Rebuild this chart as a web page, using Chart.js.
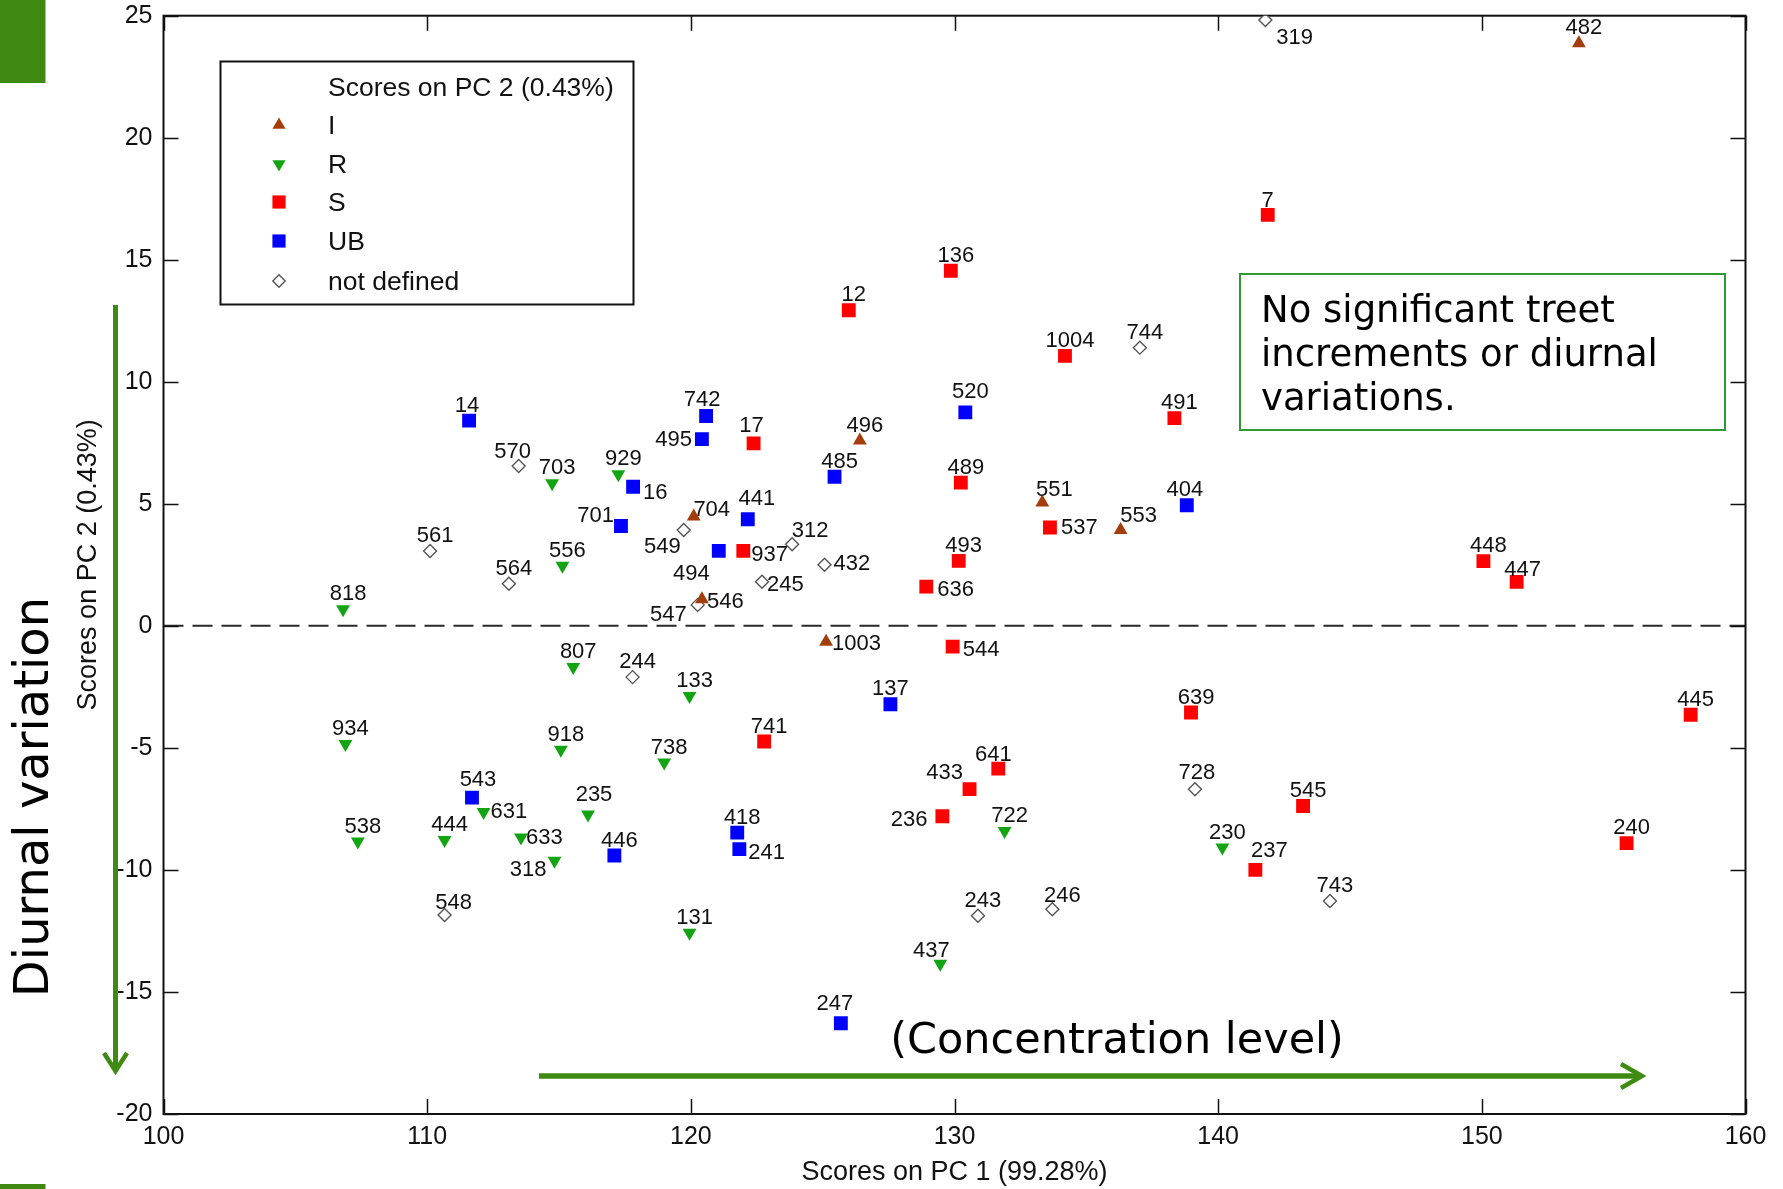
<!DOCTYPE html>
<html>
<head>
<meta charset="utf-8">
<script src="https://cdn.jsdelivr.net/npm/chart.js@4.4.1/dist/chart.umd.min.js"></script>
<style>
  html, body { margin: 0; padding: 0; background: #ffffff; }
  #wrap { position: relative; width: 1783px; height: 1189px; }
  canvas { display: block; }
</style>
</head>
<body>
<div id="wrap"><canvas id="c" width="1783" height="1189"></canvas></div>
<script>
// ---------------- DATA ----------------
const X_TICKS = [100, 110, 120, 130, 140, 150, 160];
const Y_TICKS = [-20, -15, -10, -5, 0, 5, 10, 15, 20, 25];

const X_TITLE = 'Scores on PC 1 (99.28%)';
const Y_TITLE = 'Scores on PC 2 (0.43%)';
const LEGEND_TITLE = 'Scores on PC 2 (0.43%)';
const CLASS_NAMES = ['I', 'R', 'S', 'UB', 'not defined'];

// Class I
const I_ids = ['482', '496', '704', '551', '553', '546', '1003'];
const I_x   = [153.68, 126.41, 120.11, 133.33, 136.30, 120.42, 125.13];
const I_y   = [23.87, 7.59, 4.48, 5.05, 3.93, 1.09, -0.65];

// Class R
const R_ids = ['818', '703', '929', '556', '807', '133', '934', '918', '738', '631', '235', '538', '444', '633', '318', '131', '722', '230', '437'];
const R_x   = [106.81, 114.74, 117.25, 115.13, 115.54, 119.95, 106.90, 115.07, 118.99, 112.14, 116.10, 107.37, 110.66, 113.56, 114.83, 119.95, 131.90, 140.16, 129.46];
const R_y   = [0.68, 5.84, 6.21, 2.46, -1.69, -2.87, -4.84, -5.08, -5.60, -7.63, -7.73, -8.84, -8.77, -8.67, -9.62, -12.57, -8.40, -9.08, -13.84];

// Class S
const S_ids = ['7', '136', '12', '1004', '491', '17', '489', '537', '937', '493', '636', '448', '447', '544', '741', '639', '445', '641', '433', '236', '545', '240', '237'];
const S_x   = [141.88, 129.86, 125.99, 134.19, 138.34, 122.38, 130.24, 133.62, 121.99, 130.16, 128.93, 150.06, 151.32, 129.93, 122.78, 138.97, 157.92, 131.66, 130.57, 129.54, 143.22, 155.49, 141.41];
const S_y   = [16.84, 14.55, 12.93, 11.06, 8.51, 7.48, 5.87, 4.03, 3.07, 2.66, 1.61, 2.65, 1.80, -0.85, -4.74, -3.55, -3.64, -5.85, -6.69, -7.80, -7.38, -8.90, -10.00];

// Class UB
const UB_ids = ['14', '742', '495', '520', '485', '16', '701', '441', '494', '404', '137', '543', '446', '418', '241', '247'];
const UB_x   = [111.59, 120.58, 120.42, 130.41, 125.45, 117.81, 117.35, 122.16, 121.06, 138.81, 127.57, 111.70, 117.10, 121.76, 121.84, 125.69];
const UB_y   = [8.41, 8.60, 7.65, 8.75, 6.11, 5.70, 4.09, 4.37, 3.07, 4.94, -3.21, -7.04, -9.41, -8.47, -9.15, -16.28];

// not defined
const ND_ids = ['319', '744', '570', '561', '564', '549', '312', '432', '245', '547', '244', '728', '548', '243', '246', '743'];
const ND_x   = [141.79, 137.03, 113.47, 110.11, 113.10, 119.73, 123.84, 125.07, 122.70, 120.26, 117.79, 139.12, 110.66, 130.89, 133.71, 144.24];
const ND_y   = [24.82, 11.40, 6.55, 3.07, 1.73, 3.93, 3.34, 2.50, 1.81, 0.86, -2.10, -6.69, -11.85, -11.88, -11.61, -11.27];

// ---------------- STYLE ----------------
const FONT_MAT = '"Liberation Sans", Arial, Helvetica, sans-serif';
const FONT_ANN = '"DejaVu Sans", Verdana, sans-serif';
const C_BROWN = '#a33e0c';
const C_GREEN = '#12a412';
const C_RED = '#ff0000';
const C_BLUE = '#0000ff';
const C_ND = '#555555';
const C_DECOR = '#3f8a12';
const C_BOXGREEN = '#2e9b2e';

// label placement overrides: [dx, dy(middle), align]
const LABEL_SHIFT_Y = 3;
const LABEL_DEFAULT = [5, -18, 'center'];
const LABEL_POS = {
  '16': [10, 3, 'left'], '937': [8, 1, 'left'], '546': [5, 0, 'left'], '432': [9, -4, 'left'],
  '245': [5, 0, 'left'], '1003': [6, -1, 'left'], '544': [10, 0, 'left'], '537': [11, -3, 'left'],
  '636': [11, 0, 'left'], '631': [7, -3, 'left'], '633': [5, -3, 'left'], '241': [9, 1, 'left'],
  '319': [11, 15, 'left'],
  '495': [-10, -2, 'right'], '701': [-7, -13, 'right'], '549': [-3, 14, 'right'], '547': [-11, 7, 'right'],
  '494': [-9, 20, 'right'], '318': [-8, 6, 'right'], '236': [-15, 1, 'right'],
  '433': [-25, -19, 'center'], '237': [14, -22, 'center'], '437': [-9, -16, 'center'], '247': [-6, -22, 'center'],
  '641': [-5, -17, 'center'], '235': [6, -23, 'center'], '312': [18, -16, 'center'], '704': [18, -10, 'center'],
  '553': [18, -17, 'center'], '551': [12, -16, 'center'], '441': [9, -23, 'center'], '520': [5, -23, 'center'],
  '14': [-2, -18, 'center'], '570': [-6, -17, 'center'], '742': [-4, -19, 'center'], '17': [-2, -20, 'center'],
  '246': [10, -16, 'center'], '548': [9, -15, 'center'], '447': [6, -15, 'center'], '543': [6, -21, 'center'],
  '7': [0, -17, 'center'], '404': [-2, -18, 'center'], '137': [0, -18, 'center'], '728': [2, -19, 'center']
};

function pts(xs, ys) { return xs.map((x, i) => ({ x: x, y: ys[i] })); }

const datasets = [
  { label: CLASS_NAMES[0], ids: I_ids, data: pts(I_x, I_y), pointStyle: 'triangle', rotation: 0, pointRadius: 8,
    backgroundColor: C_BROWN, borderColor: C_BROWN, borderWidth: 0 },
  { label: CLASS_NAMES[1], ids: R_ids, data: pts(R_x, R_y), pointStyle: 'triangle', rotation: 180, pointRadius: 8,
    backgroundColor: C_GREEN, borderColor: C_GREEN, borderWidth: 0 },
  { label: CLASS_NAMES[2], ids: S_ids, data: pts(S_x, S_y), pointStyle: 'rect', rotation: 0, pointRadius: 9.8,
    backgroundColor: C_RED, borderColor: C_RED, borderWidth: 0 },
  { label: CLASS_NAMES[3], ids: UB_ids, data: pts(UB_x, UB_y), pointStyle: 'rect', rotation: 0, pointRadius: 9.8,
    backgroundColor: C_BLUE, borderColor: C_BLUE, borderWidth: 0 },
  { label: CLASS_NAMES[4], ids: ND_ids, data: pts(ND_x, ND_y), pointStyle: 'rectRot', rotation: 0, pointRadius: 6.5,
    backgroundColor: '#ffffff', borderColor: C_ND, borderWidth: 1.4 }
];
datasets.forEach(d => { d.pointHoverRadius = d.pointRadius; d.showLine = false; });

// ---------------- PLUGINS ----------------
const framePlugin = {
  id: 'frame',
  beforeDatasetsDraw(chart) {
    const { ctx, chartArea: a, scales: { x, y } } = chart;
    ctx.save();
    // dashed zero line
    ctx.strokeStyle = '#2a2a2a';
    ctx.lineWidth = 2;
    ctx.setLineDash([20, 9]);
    const y0 = y.getPixelForValue(0);
    ctx.beginPath(); ctx.moveTo(a.left, y0); ctx.lineTo(a.right, y0); ctx.stroke();
    ctx.setLineDash([]);
    // ticks on all four sides (inward)
    ctx.strokeStyle = '#111';
    ctx.lineWidth = 1.5;
    const TL = 15;
    X_TICKS.forEach(v => {
      const px = Math.round(x.getPixelForValue(v)) + 0.5;
      ctx.beginPath();
      ctx.moveTo(px, a.bottom); ctx.lineTo(px, a.bottom - TL);
      ctx.moveTo(px, a.top); ctx.lineTo(px, a.top + TL);
      ctx.stroke();
    });
    Y_TICKS.forEach(v => {
      const py = Math.round(y.getPixelForValue(v)) + 0.5;
      ctx.beginPath();
      ctx.moveTo(a.left, py); ctx.lineTo(a.left + TL, py);
      ctx.moveTo(a.right, py); ctx.lineTo(a.right - TL, py);
      ctx.stroke();
    });
    // box
    ctx.lineWidth = 2;
    ctx.strokeStyle = '#111';
    ctx.strokeRect(a.left, a.top, a.right - a.left, a.bottom - a.top);
    ctx.restore();
  }
};

const labelPlugin = {
  id: 'pointLabels',
  afterDatasetsDraw(chart) {
    const { ctx } = chart;
    ctx.save();
    ctx.font = '22px ' + FONT_MAT;
    ctx.fillStyle = '#111';
    ctx.textBaseline = 'middle';
    chart.data.datasets.forEach((ds, di) => {
      const meta = chart.getDatasetMeta(di);
      meta.data.forEach((el, i) => {
        const id = ds.ids[i];
        const o = LABEL_POS[id] || LABEL_DEFAULT;
        ctx.textAlign = o[2];
        ctx.fillText(id, el.x + o[0], el.y + o[1] + LABEL_SHIFT_Y);
      });
    });
    ctx.restore();
  }
};

const decorPlugin = {
  id: 'decor',
  afterDraw(chart) {
    const { ctx } = chart;
    const H = Chart.helpers;
    ctx.save();

    // green corner blocks
    ctx.fillStyle = C_DECOR;
    ctx.fillRect(0, 0, 45.5, 83);
    ctx.fillRect(0, 1184, 45.5, 5);

    // legend box
    ctx.fillStyle = '#ffffff';
    ctx.fillRect(220.5, 61.5, 413, 243);
    ctx.strokeStyle = '#111';
    ctx.lineWidth = 2;
    ctx.strokeRect(220.5, 61.5, 413, 243);
    ctx.fillStyle = '#111';
    ctx.font = '26.5px ' + FONT_MAT;
    ctx.textAlign = 'left';
    ctx.textBaseline = 'middle';
    ctx.fillText(LEGEND_TITLE, 328, 89);
    const rows = [127, 166, 204, 243, 283];
    chart.data.datasets.forEach((ds, i) => {
      ctx.fillStyle = ds.backgroundColor;
      ctx.strokeStyle = ds.borderColor;
      ctx.lineWidth = ds.borderWidth;
      H.drawPoint(ctx, { pointStyle: ds.pointStyle, rotation: ds.rotation, radius: ds.pointRadius * 0.95, borderWidth: ds.borderWidth }, 279, rows[i] - 2);
      ctx.fillStyle = '#111';
      ctx.fillText(ds.label, 328, rows[i]);
    });

    // annotation text box
    ctx.fillStyle = '#ffffff';
    ctx.fillRect(1240, 274, 485, 156);
    ctx.strokeStyle = C_BOXGREEN;
    ctx.lineWidth = 2;
    ctx.strokeRect(1240, 274, 485, 156);
    ctx.fillStyle = '#000';
    ctx.font = '37px ' + FONT_ANN;
    ctx.textBaseline = 'alphabetic';
    ctx.textAlign = 'left';
    ctx.fillText('No significant treet', 1261, 322);
    ctx.fillText('increments or diurnal', 1261, 366);
    ctx.fillText('variations.', 1261, 410);

    // arrows
    ctx.strokeStyle = C_DECOR;
    ctx.lineCap = 'butt';
    ctx.lineJoin = 'miter';
    ctx.lineWidth = 5;
    // vertical
    ctx.beginPath(); ctx.moveTo(115.5, 305); ctx.lineTo(115.5, 1068); ctx.stroke();
    ctx.lineWidth = 4.5;
    ctx.beginPath(); ctx.moveTo(104, 1053); ctx.lineTo(115.5, 1071); ctx.lineTo(127, 1053); ctx.stroke();
    // horizontal
    ctx.lineWidth = 5.5;
    ctx.beginPath(); ctx.moveTo(539, 1076); ctx.lineTo(1639, 1076); ctx.stroke();
    ctx.lineWidth = 4.5;
    ctx.beginPath(); ctx.moveTo(1621, 1064); ctx.lineTo(1642, 1076); ctx.lineTo(1621, 1088); ctx.stroke();

    // big annotation texts
    ctx.fillStyle = '#000';
    ctx.font = '43px ' + FONT_ANN;
    ctx.textAlign = 'center';
    ctx.textBaseline = 'middle';
    ctx.fillText('(Concentration level)', 1117, 1042);

    ctx.save();
    ctx.translate(36, 797);
    ctx.rotate(-Math.PI / 2);
    ctx.font = '48px ' + FONT_ANN;
    ctx.fillText('Diurnal variation', 0, 0);
    ctx.restore();

    ctx.restore();
  }
};

// ---------------- CHART ----------------
const chart = new Chart(document.getElementById('c').getContext('2d'), {
  type: 'scatter',
  data: { datasets: datasets },
  options: {
    responsive: false,
    animation: false,
    devicePixelRatio: 1,
    events: [],
    layout: { padding: { left: 0, right: 37.5, top: 15.7, bottom: 0 } },
    plugins: { legend: { display: false }, tooltip: { enabled: false } },
    scales: {
      x: {
        type: 'linear', position: 'bottom', min: 100, max: 160,
        afterBuildTicks: s => { s.ticks = X_TICKS.map(v => ({ value: v })); },
        ticks: { color: '#111', font: { family: FONT_MAT, size: 25 }, padding: 8.5, maxRotation: 0, autoSkip: false },
        grid: { display: false, drawTicks: false },
        border: { display: false },
        title: { display: true, text: X_TITLE, color: '#111', font: { family: FONT_MAT, size: 27 }, padding: { top: 0, bottom: 0 } },
        afterFit: s => { s.height = 75; s.paddingLeft = 0; s.paddingRight = 0; s.paddingTop = 0; s.paddingBottom = 0; }
      },
      y: {
        type: 'linear', position: 'left', min: -20, max: 25,
        afterBuildTicks: s => { s.ticks = Y_TICKS.map(v => ({ value: v })); },
        ticks: { color: '#111', font: { family: FONT_MAT, size: 25 }, padding: 11, autoSkip: false },
        grid: { display: false, drawTicks: false },
        border: { display: false },
        title: { display: true, text: Y_TITLE, color: '#111', font: { family: FONT_MAT, size: 27 }, padding: { top: 72, bottom: 0 } },
        afterFit: s => { s.width = 163.5; s.paddingLeft = 0; s.paddingRight = 0; s.paddingTop = 0; s.paddingBottom = 0; }
      }
    }
  },
  plugins: [framePlugin, labelPlugin, decorPlugin]
});
</script>
</body>
</html>
